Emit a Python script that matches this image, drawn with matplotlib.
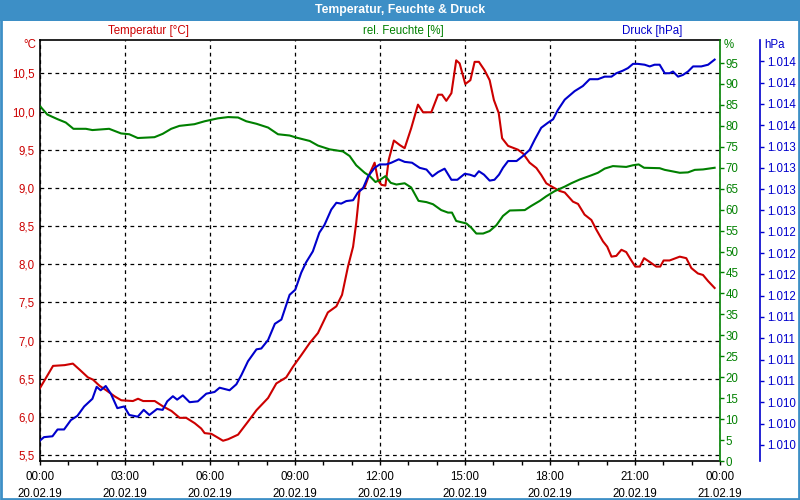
import numpy as np
import matplotlib
matplotlib.use("Agg")
from matplotlib import pyplot as plt
from matplotlib.patches import Rectangle
from matplotlib.ticker import FixedLocator, FuncFormatter, MultipleLocator

# hours since 20.02.19 00:00
temp_h = [0.0, 0.46, 0.87, 1.16, 1.4, 1.69, 1.87, 2.1, 2.34, 2.64, 2.87, 3.28, 3.46, 3.64, 4.05,
          4.34, 4.64, 4.93, 5.16, 5.46, 5.69, 5.81, 6.05, 6.28, 6.46, 6.64, 6.99, 7.34, 7.64, 8.05,
          8.34, 8.69, 8.93, 9.22, 9.52, 9.81, 10.16, 10.46, 10.66, 10.87, 11.05, 11.16, 11.28, 11.46,
          11.64, 11.81, 11.93, 12.05, 12.19, 12.31, 12.49, 12.7, 12.87, 13.1, 13.34, 13.52, 13.81,
          14.05, 14.19, 14.34, 14.52, 14.69, 14.81, 15.01, 15.19, 15.34, 15.49, 15.69, 15.87, 16.02,
          16.19, 16.31, 16.52, 16.87, 17.05, 17.28, 17.52, 17.69, 17.87, 18.05, 18.34, 18.52, 18.81,
          18.99, 19.22, 19.46, 19.64, 19.87, 20.02, 20.17, 20.34, 20.52, 20.69, 20.87, 21.01, 21.17,
          21.32, 21.52, 21.75, 21.89, 22.01, 22.22, 22.58, 22.81, 22.99, 23.22, 23.4, 23.58, 23.81]
temp_c = [6.38, 6.67, 6.68, 6.70, 6.62, 6.52, 6.49, 6.41, 6.35, 6.27, 6.22, 6.21, 6.24, 6.21, 6.21,
          6.14, 6.08, 5.99, 5.99, 5.92, 5.85, 5.79, 5.78, 5.73, 5.69, 5.71, 5.77, 5.94, 6.09, 6.25,
          6.44, 6.52, 6.66, 6.81, 6.97, 7.10, 7.37, 7.45, 7.60, 7.97, 8.23, 8.54, 8.97, 9.01,
          9.19, 9.33, 9.10, 9.04, 9.03, 9.37, 9.62, 9.56, 9.52, 9.78, 10.09, 9.99, 9.99,
          10.22, 10.22, 10.14, 10.24, 10.67, 10.63, 10.36, 10.41, 10.65, 10.65, 10.54, 10.41, 10.15,
          9.98, 9.65, 9.55, 9.50, 9.45, 9.33, 9.26, 9.17, 9.06, 9.02, 8.96, 8.94, 8.82,
          8.79, 8.65, 8.58, 8.45, 8.30, 8.23, 8.10, 8.11, 8.19, 8.16, 8.05, 7.97, 7.97,
          8.08, 8.03, 7.97, 7.97, 8.05, 8.05, 8.10, 8.08, 7.95, 7.88, 7.86, 7.78, 7.69]

hum_h = [0.0, 0.26, 0.62, 0.91, 1.18, 1.62, 1.85, 2.44, 2.86, 3.15, 3.45, 4.04, 4.33, 4.63, 4.92,
         5.45, 5.81, 6.28, 6.64, 6.99, 7.28, 7.64, 8.05, 8.4, 8.81, 9.05, 9.52, 9.81, 10.22, 10.69,
         10.93, 11.16, 11.46, 11.64, 11.84, 12.0, 12.19, 12.38, 12.58, 12.87, 13.1, 13.36, 13.64,
         13.87, 14.16, 14.4, 14.54, 14.69, 15.05, 15.22, 15.4, 15.64, 15.87, 16.11, 16.34, 16.58,
         17.11, 17.34, 17.64, 17.87, 18.16, 18.52, 18.75, 19.05, 19.46, 19.69, 19.93, 20.22, 20.69,
         20.93, 21.13, 21.32, 21.87, 22.05, 22.28, 22.58, 22.87, 23.11, 23.4, 23.81]
hum_pct = [84.7, 82.7, 81.6, 80.8, 79.3, 79.3, 79.0, 79.3, 78.2, 78.0, 77.1, 77.3, 78.1, 79.3, 80.0,
           80.4, 81.1, 81.8, 82.1, 82.0, 81.1, 80.5, 79.6, 78.0, 77.7, 77.2, 76.4, 75.3, 74.4, 73.9,
           72.8, 70.6, 68.8, 68.0, 66.6, 67.1, 68.0, 66.4, 66.0, 66.3, 65.3, 62.1, 61.8,
           61.3, 59.9, 59.3, 59.3, 57.3, 56.7, 55.7, 54.3, 54.3, 54.9, 56.3, 58.5, 59.8,
           59.9, 60.9, 62.1, 63.2, 64.4, 65.5, 66.3, 67.2, 68.2, 68.8, 69.8, 70.4, 70.2,
           70.6, 70.8, 70.0, 69.9, 69.5, 69.2, 68.8, 68.9, 69.5, 69.6, 70.0]

pres_h = [0.0, 0.14, 0.44, 0.62, 0.85, 1.09, 1.32, 1.56, 1.85, 2.0, 2.14, 2.32, 2.5, 2.73, 2.97,
          3.15, 3.45, 3.66, 3.86, 4.13, 4.33, 4.49, 4.69, 4.84, 5.04, 5.28, 5.57, 5.87, 6.16, 6.34,
          6.69, 6.93, 7.11, 7.34, 7.64, 7.81, 8.05, 8.29, 8.52, 8.81, 9.01, 9.22, 9.39, 9.63, 9.86,
          10.04, 10.28, 10.46, 10.63, 10.81, 11.05, 11.22, 11.4, 11.58, 11.81, 11.99, 12.22, 12.4,
          12.66, 12.87, 13.13, 13.4, 13.64, 13.85, 14.05, 14.28, 14.52, 14.73, 14.99, 15.17, 15.34,
          15.49, 15.67, 15.87, 16.04, 16.2, 16.34, 16.52, 16.82, 17.05, 17.28, 17.46, 17.69, 17.93,
          18.11, 18.28, 18.52, 18.87, 19.16, 19.4, 19.69, 19.93, 20.17, 20.34, 20.57, 20.75, 20.93,
          21.1, 21.34, 21.52, 21.69, 21.87, 22.05, 22.22, 22.34, 22.52, 22.69, 22.87, 23.05, 23.34,
          23.58, 23.81]
pres_hpa = [1009.80, 1009.84, 1009.85, 1009.93, 1009.93, 1010.04, 1010.09, 1010.20, 1010.29, 1010.43,
            1010.39, 1010.44, 1010.35, 1010.18, 1010.20, 1010.10, 1010.08, 1010.16, 1010.10, 1010.17,
            1010.16, 1010.26, 1010.32, 1010.28, 1010.33, 1010.25, 1010.26, 1010.35, 1010.37, 1010.42,
            1010.39, 1010.46, 1010.57, 1010.73, 1010.87, 1010.88, 1010.98, 1011.17, 1011.22, 1011.51,
            1011.57, 1011.77, 1011.89, 1012.02, 1012.24, 1012.33, 1012.51, 1012.59, 1012.58, 1012.61,
            1012.62, 1012.71, 1012.76, 1012.90, 1013.00, 1013.04, 1013.04, 1013.06, 1013.10, 1013.07,
            1013.06, 1013.00, 1012.98, 1012.90, 1012.95, 1012.99, 1012.86, 1012.86, 1012.93, 1012.92,
            1012.90, 1012.96, 1012.92, 1012.85, 1012.86, 1012.92, 1013.00, 1013.08, 1013.08, 1013.14,
            1013.21, 1013.33, 1013.47, 1013.53, 1013.57, 1013.68, 1013.80, 1013.90, 1013.96, 1014.04,
            1014.04, 1014.07, 1014.07, 1014.11, 1014.14, 1014.17, 1014.22, 1014.22, 1014.21, 1014.19,
            1014.21, 1014.21, 1014.11, 1014.11, 1014.13, 1014.07, 1014.09, 1014.13, 1014.19, 1014.19,
            1014.21, 1014.27]

x_ticks = [0, 3, 6, 9, 12, 15, 18, 21, 24]
x_labels = ["00:00\n20.02.19", "03:00\n20.02.19", "06:00\n20.02.19", "09:00\n20.02.19",
            "12:00\n20.02.19", "15:00\n20.02.19", "18:00\n20.02.19", "21:00\n20.02.19",
            "00:00\n21.02.19"]
temp_ticks = [5.5, 6.0, 6.5, 7.0, 7.5, 8.0, 8.5, 9.0, 9.5, 10.0, 10.5]
hum_ticks = list(range(0, 100, 5))
pres_ticks = [1009.75 + 0.25 * i for i in range(19)]

RED = "#cc0000"
GREEN = "#008000"
BLUE = "#0000cc"
FRAME = "#3d8fc6"

plt.rcParams['font.family'] = ['Liberation Sans', 'DejaVu Sans']
plt.rcParams['font.size'] = 8.3

fig = plt.figure(figsize=(8, 5), dpi=100)
fig.patch.set_facecolor("white")

# title bar + border
fig.patches.append(Rectangle((0, 1 - 21 / 500), 1, 21 / 500, transform=fig.transFigure,
                             facecolor=FRAME, edgecolor="none", zorder=0))
fig.patches.append(Rectangle((0.001, 0.002), 0.998, 0.996, transform=fig.transFigure,
                             facecolor="none", edgecolor=FRAME, lw=2, zorder=0))
fig.text(0.5, 1 - 10 / 500, "Temperatur, Feuchte & Druck", color="white", fontweight="bold",
         ha="center", va="center", fontsize=8.8)

ax = fig.add_axes([40 / 800, 1 - 461 / 500, 680 / 800, 421 / 500])
ax.plot(temp_h, temp_c, color=RED, lw=1.5, zorder=3)
ax.set_xlim(0, 24)
ax.set_ylim(5.425, 10.936)
ax.xaxis.set_major_locator(FixedLocator(x_ticks))
ax.set_xticklabels(x_labels, linespacing=1.55)
ax.xaxis.set_minor_locator(MultipleLocator(1))
ax.tick_params(axis="x", which="both", direction="out", length=3, width=1, pad=4,
               colors="black")
ax.yaxis.set_major_locator(FixedLocator(temp_ticks))
ax.yaxis.set_major_formatter(FuncFormatter(lambda v, p: f"{v:.1f}".replace(".", ",")))
ax.tick_params(axis="y", length=0, pad=4, labelcolor=RED)
ax.grid(True, which="major", color="black", linestyle=(0, (3, 3)), lw=0.9)
ax.spines["right"].set_visible(False)
for s in ["left", "bottom", "top"]:
    ax.spines[s].set_linewidth(1.2)

ax_h = ax.twinx()
ax_h.plot(hum_h, hum_pct, color=GREEN, lw=1.5)
ax_h.set_ylim(0, 100.5)
ax_h.yaxis.set_major_locator(FixedLocator(hum_ticks))
ax_h.tick_params(axis="y", length=3, width=1, pad=1, colors=GREEN)
ax_h.spines["right"].set_color(GREEN)
ax_h.spines["right"].set_linewidth(1.2)
for s in ["left", "bottom", "top"]:
    ax_h.spines[s].set_visible(False)

ax_p = ax.twinx()
ax_p.plot(pres_h, pres_hpa, color=BLUE, lw=1.5)
ax_p.set_ylim(1009.56, 1014.50)
ax_p.spines["right"].set_position(("axes", 720 / 680))
ax_p.spines["right"].set_color(BLUE)
ax_p.spines["right"].set_linewidth(1.2)
for s in ["left", "bottom", "top"]:
    ax_p.spines[s].set_visible(False)
ax_p.yaxis.set_major_locator(FixedLocator(pres_ticks))
ax_p.yaxis.set_major_formatter(FuncFormatter(
    lambda v, p: f"{int(np.floor(v + 0.5)):,}".replace(",", ".")))
ax_p.tick_params(axis="y", length=3, width=1, pad=2, colors=BLUE)

# unit labels and series headers
fig.text(36 / 800, 1 - 45 / 500, "°C", color=RED, ha="right", va="center")
fig.text(724 / 800, 1 - 45 / 500, "%", color=GREEN, ha="left", va="center")
fig.text(764 / 800, 1 - 45 / 500, "hPa", color=BLUE, ha="left", va="center")
fig.text(148 / 800, 1 - 31 / 500, "Temperatur [°C]", color=RED, ha="center", va="center")
fig.text(403 / 800, 1 - 31 / 500, "rel. Feuchte [%]", color=GREEN, ha="center", va="center")
fig.text(652 / 800, 1 - 31 / 500, "Druck [hPa]", color=BLUE, ha="center", va="center")

fig.savefig("out.png", dpi=100)
